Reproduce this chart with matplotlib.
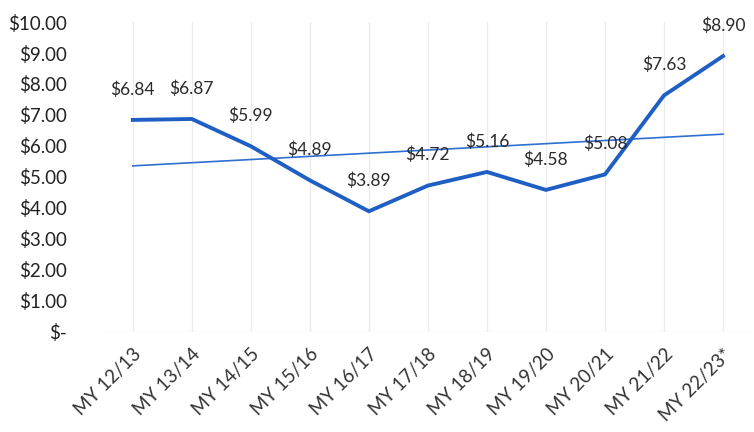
import numpy as np
import matplotlib.pyplot as plt

plt.rcParams['font.family'] = ['Lato', 'DejaVu Sans']

# marketing years and average price
years = ["MY 12/13", "MY 13/14", "MY 14/15", "MY 15/16", "MY 16/17", "MY 17/18",
         "MY 18/19", "MY 19/20", "MY 20/21", "MY 21/22", "MY 22/23*"]
prices = [6.84, 6.87, 5.99, 4.89, 3.89, 4.72, 5.16, 4.58, 5.08, 7.63, 8.90]
yticks = [0, 1, 2, 3, 4, 5, 6, 7, 8, 9, 10]
ytick_labels = ["$-", "$1.00", "$2.00", "$3.00", "$4.00", "$5.00",
                "$6.00", "$7.00", "$8.00", "$9.00", "$10.00"]

x = np.arange(len(years))

fig = plt.figure(figsize=(7.54, 4.32), dpi=100)
ax = fig.add_axes([0.137, 0.232, 0.861, 0.717])

ax.plot(x, prices, color="#1f5fc4", linewidth=2.8, solid_joinstyle="miter", zorder=3)

# linear trendline
k, b = np.polyfit(x, prices, 1)
ax.plot(x, k * x + b, color="#2e6fd0", linewidth=1.2, zorder=2)

for xi, p in zip(x, prices):
    ax.annotate(f"${p:.2f}", (xi, p), xytext=(0, 22), textcoords="offset points",
                ha="center", va="center", fontsize=12.5, color="#2a2a2a", zorder=4)

ax.set_xlim(-0.5, len(years) - 0.5)
ax.set_ylim(0, 10)
ax.set_yticks(yticks)
ax.set_yticklabels(ytick_labels, fontsize=13.5, color="#222222")
ax.set_xticks(x)
ax.set_xticklabels(years, rotation=45, ha="right", rotation_mode="anchor",
                   fontsize=13.5, color="#333333")
ax.tick_params(axis="y", length=0, pad=26)
ax.tick_params(axis="x", length=0, pad=10)

ax.grid(axis="x", color="#ececec", linewidth=1)
ax.axhline(0, color="#eeeeee", linewidth=1)
for s in ax.spines.values():
    s.set_visible(False)

fig.savefig("out.png", dpi=100)
